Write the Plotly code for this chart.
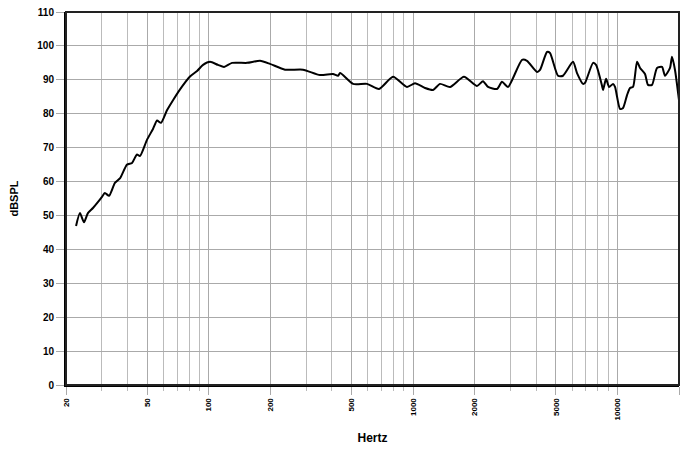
import plotly.graph_objects as go

freq = [22.4, 23.4, 24.5, 25.6, 27.1, 28.7, 30.0, 31.0, 32.5, 34.7, 36.8, 39.8, 42.1, 44.5, 46.0,
        49.8, 53.3, 55.8, 58.3, 62.4, 66.8, 73.9, 80.9, 87.6, 93.7, 101.4, 110.9, 118.7, 129.9,
        153.8, 178.1, 199.3, 236, 289, 350, 405, 429, 439, 508, 595, 681, 797, 933, 1021, 1143,
        1251, 1354, 1515, 1773, 2053, 2197, 2325, 2574, 2722, 2913, 3410, 3608, 4038, 4177, 4519,
        4675, 5115, 5412, 6058, 6337, 6780, 6935, 7592, 7853, 8403, 8498, 8791, 9094, 9511, 9728,
        10292, 10647, 11136, 11519, 11916, 12465, 12894, 13638, 14108, 14758, 15612, 16517, 17085,
        18072, 18485, 19119, 20000]
spl = [46.9, 50.7, 48.0, 50.7, 52.2, 54.0, 55.5, 56.6, 55.8, 59.6, 61.0, 65.0, 65.5, 68.0, 67.5,
       72.3, 75.5, 78.0, 77.3, 81.0, 84.0, 88.0, 91.0, 92.6, 94.4, 95.3, 94.4, 93.8, 95.0,
       95.0, 95.6, 94.7, 93.0, 93.0, 91.4, 91.7, 91.2, 92.0, 88.8, 88.8, 87.3, 90.9, 87.9, 89.0, 87.6,
       87.0, 88.8, 87.9, 90.9, 88.2, 89.6, 87.9, 87.3, 89.4, 87.9, 95.9, 95.6, 92.3, 92.9, 98.2,
       97.9, 91.2, 91.2, 95.3, 92.0, 88.8, 89.1, 95.0, 94.4, 88.2, 87.0, 90.3, 87.9, 88.8, 87.9,
       81.4, 81.7, 85.5, 87.6, 87.9, 95.3, 93.5, 91.7, 88.5, 88.5, 93.5, 93.8, 91.2,
       93.5, 96.8, 92.9, 84.0]

x_ticks = [20, 50, 100, 200, 500, 1000, 2000, 5000, 10000, 20000]
x_minor = [30, 40, 60, 70, 80, 90, 300, 400, 600, 700, 800, 900,
           3000, 4000, 6000, 7000, 8000, 9000]
y_ticks = list(range(0, 111, 10))

fnt = "Liberation Sans"

fig = go.Figure(go.Scatter(x=freq, y=spl, mode="lines",
                           line=dict(color="black", width=2, shape="spline", smoothing=0.6)))

fig.update_layout(
    width=680, height=451, plot_bgcolor="white", paper_bgcolor="white",
    margin=dict(l=66, r=1, t=12, b=66), showlegend=False,
    font=dict(family=fnt, color="black"),
)
fig.update_xaxes(
    type="log", range=[1.30103, 4.30103], automargin=False,
    tickvals=x_ticks, ticktext=["<b>%d</b>" % v for v in x_ticks],
    tickangle=-90, tickfont=dict(size=8),
    ticks="outside", ticklen=8, tickcolor="#aaaaaa",
    showgrid=True, gridcolor="#aaaaaa", gridwidth=1,
    minor=dict(tickvals=x_minor, showgrid=True, gridcolor="#bbbbbb", gridwidth=1,
               ticks="outside", ticklen=4, tickcolor="#bbbbbb"),
    showline=True, linecolor="black", linewidth=2, mirror=False,
    title=dict(text="<b>Hertz</b>", font=dict(size=12), standoff=14),
)
fig.update_yaxes(
    range=[0, 110], tickvals=y_ticks, automargin=False,
    ticktext=["<b>%d</b>" % v for v in y_ticks], tickfont=dict(size=10),
    ticks="outside", ticklen=8, tickcolor="#aaaaaa",
    showgrid=True, gridcolor="#aaaaaa", gridwidth=1, zeroline=False,
    showline=True, linecolor="black", linewidth=2,
    title=dict(text="<b>dBSPL</b>", font=dict(size=11), standoff=16),
)
# frame on top and right
fig.add_shape(type="rect", xref="paper", yref="paper", x0=0, y0=0, x1=1, y1=1,
              line=dict(color="#222222", width=2))

fig.write_html("out.html", config={"displayModeBar": False},
               post_script="document.body.style.margin='0';")
